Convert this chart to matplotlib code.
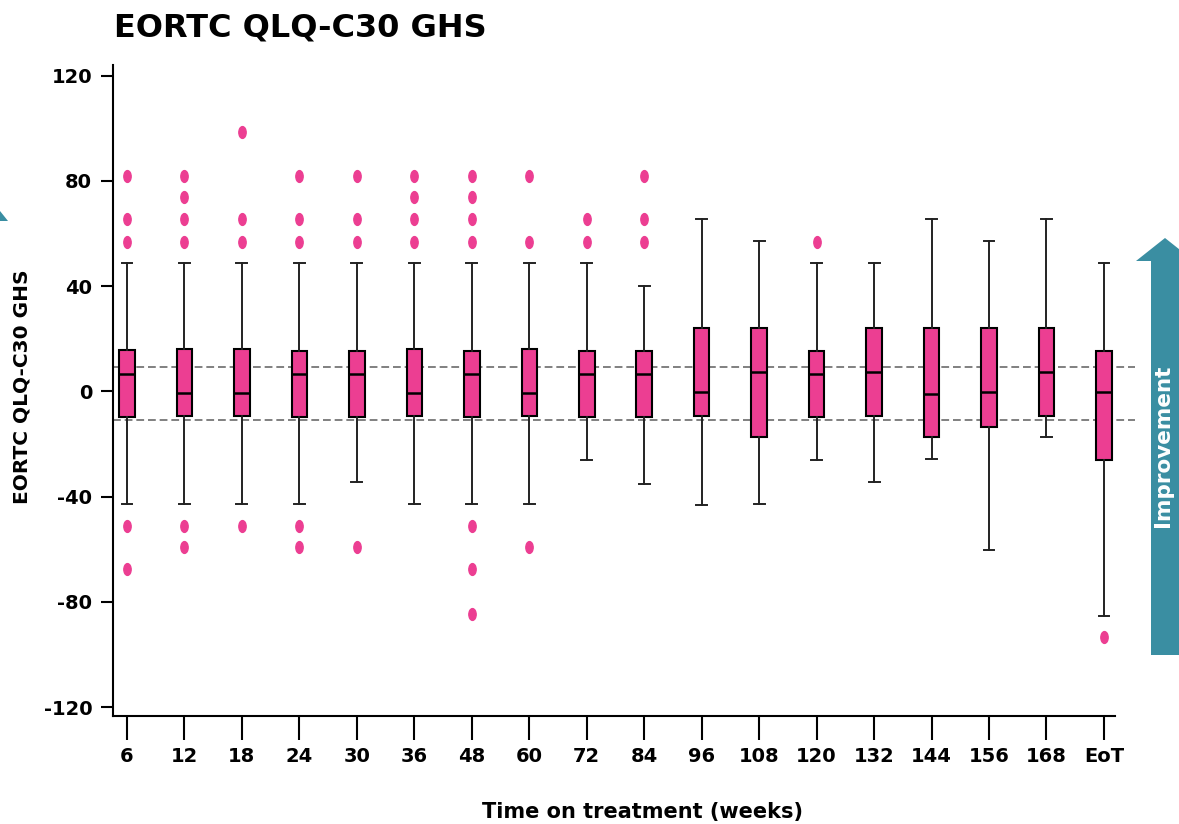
import matplotlib
matplotlib.use("Agg")
import matplotlib.pyplot as plt
from matplotlib.path import Path
from matplotlib.patches import Polygon
from matplotlib.transforms import Affine2D

# data
weeks = ['6', '12', '18', '24', '30', '36', '48', '60', '72', '84', '96',
         '108', '120', '132', '144', '156', '168', 'EoT']
q1 = [-9.6, -9.2, -9.2, -9.6, -9.6, -9.2, -9.6, -9.2, -9.6, -9.6, -9.2,
      -17.3, -9.6, -9.2, -17.4, -13.7, -9.2, -26.0]
med = [6.8, -0.6, -0.6, 6.8, 6.8, -0.6, 6.8, -0.6, 6.8, 6.8, -0.4,
       7.5, 6.8, 7.4, -0.8, -0.4, 7.4, -0.3]
q3 = [15.6, 16.0, 16.0, 15.5, 15.5, 16.0, 15.5, 16.0, 15.5, 15.5, 24.1,
      24.1, 15.5, 24.1, 24.1, 24.1, 24.1, 15.4]
whislo = [-42.7, -42.7, -42.7, -42.7, -34.3, -42.7, -42.7, -42.7, -26.1, -35.1, -43.1,
          -42.7, -26.0, -34.3, -25.8, -60.2, -17.3, -85.3]
whishi = [49, 49, 49, 49, 49, 49, 49, 49, 49, 40.1, 65.7,
          57.0, 49, 49, 65.7, 57.0, 65.7, 49]
fliers = [[82, 65.7, 56.8, -51, -67.6],
          [82, 73.8, 65.7, 56.8, -51, -59.3],
          [98.8, 65.7, 56.8, -51],
          [82, 65.7, 56.8, -51, -59.3],
          [82, 65.7, 56.8, -59.3],
          [82, 73.9, 65.7, 56.8],
          [82, 73.9, 65.7, 56.8, -51, -67.6, -84.6],
          [82, 56.8, -59.3],
          [65.7, 56.8],
          [82, 65.7, 56.8],
          [], [], [56.8], [], [], [], [],
          [-93.3]]
mid_hi = 9.2
mid_lo = -10.9

pink = '#EC3E92'
teal = '#3A8EA2'
W, H = 1179, 824

plt.rcParams['font.family'] = 'DejaVu Sans'
plt.rcParams['font.weight'] = 'bold'
plt.rcParams['axes.unicode_minus'] = False

fig = plt.figure(figsize=(W / 100, H / 100), dpi=100)
ax = fig.add_axes([113 / W, 1 - 716 / H, (1135 - 113) / W, (716 - 65) / H])

stats = []
for i in range(len(weeks)):
    stats.append(dict(med=med[i], q1=q1[i], q3=q3[i], whislo=whislo[i],
                      whishi=whishi[i], fliers=fliers[i], label=weeks[i]))

# ellipse shaped outlier marker
ell = Path.unit_circle().transformed(Affine2D().scale(0.62, 1.0))

ax.bxp(stats, positions=range(len(weeks)), widths=0.27, patch_artist=True,
       showfliers=True,
       boxprops=dict(facecolor=pink, edgecolor='black', linewidth=1.5),
       medianprops=dict(color='black', linewidth=1.8),
       whiskerprops=dict(color='#222222', linewidth=1.4),
       capprops=dict(color='#222222', linewidth=1.4),
       capwidths=0.19,
       flierprops=dict(marker=ell, markersize=8.5, markerfacecolor=pink,
                       markeredgecolor=pink, linestyle='none'))

for yv in (mid_hi, mid_lo):
    ax.axhline(yv, color='#808080', linestyle=(0, (4, 2)), linewidth=1.4, zorder=0)

ax.set_xlim(-0.2436, 17.54)
ax.set_ylim(-123.4, 124.1)
ax.set_yticks([-120, -80, -40, 0, 40, 80, 120])
ax.set_xticks(range(len(weeks)))
ax.set_xticklabels(weeks)
ax.spines['top'].set_visible(False)
ax.spines['right'].set_visible(False)
ax.spines['bottom'].set_bounds(-0.2436, 17.19)
for s in ('left', 'bottom'):
    ax.spines[s].set_linewidth(1.5)
ax.tick_params(axis='y', length=9, width=1.5, labelsize=14, pad=6)
ax.tick_params(axis='x', length=17, width=1.5, labelsize=14, pad=5)

fig.text(114 / W, 1 - 28 / H, 'EORTC QLQ-C30 GHS', fontsize=23, fontweight='bold',
         ha='left', va='center')
fig.text(22 / W, 1 - 387 / H, 'EORTC QLQ-C30 GHS', fontsize=14.5, fontweight='bold',
         rotation=90, ha='center', va='center')
fig.text(642 / W, 1 - 812 / H, 'Time on treatment (weeks)', fontsize=15,
         fontweight='bold', ha='center', va='center')


def px(pts):
    return [(x / W, 1 - y / H) for x, y in pts]


arrow = [(1165, 238), (1194, 261), (1180, 261), (1180, 655), (1151, 655),
         (1151, 261), (1136, 261)]
fig.add_artist(Polygon(px(arrow), closed=True, facecolor=teal, edgecolor='none',
                       transform=fig.transFigure))
fig.text(1163 / W, 1 - 446 / H, 'Improvement', color='white', fontsize=15.5,
         fontweight='bold', rotation=90, ha='center', va='center')
tri = [(0, 211), (8, 221), (0, 221)]
fig.add_artist(Polygon(px(tri), closed=True, facecolor=teal, edgecolor='none',
                       transform=fig.transFigure))

fig.savefig('out.png', dpi=100)
